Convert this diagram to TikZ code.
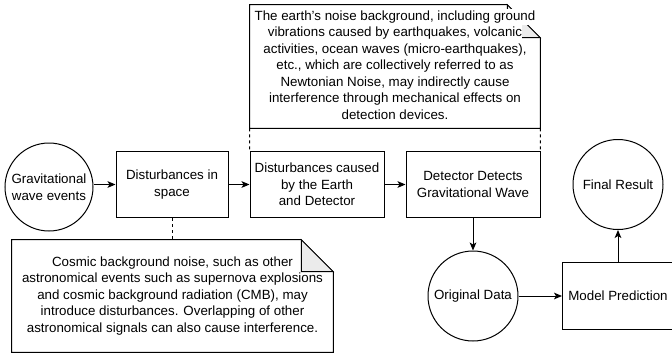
\documentclass[tikz,border=0pt]{standalone}
\usepackage{fontspec}
\setmainfont{Liberation Sans}
\usetikzlibrary{arrows.meta,backgrounds}
\newcommand{\whiteline}[1]{{\setlength{\fboxsep}{0pt}\colorbox{white}{\strut #1}}}

\begin{document}
\begin{tikzpicture}[x=0.75pt,y=-0.75pt,
  box/.style={draw=black,line width=0.75pt,rectangle,align=center},
  state/.style={draw=black,line width=0.75pt,circle,align=center},
  memo/.style={align=center},
  link/.style={black,line width=0.75pt,-{Stealth[length=6pt,width=5pt,inset=1.5pt]}},
  tie/.style={black,line width=0.75pt,dash pattern=on 2.25pt off 2.25pt}]
\tikzstyle{every node}+=[inner sep=0pt,font=\fontsize{10pt}{12.4pt}\selectfont]
\useasboundingbox (0,0) rectangle (672,354);
\node [state,minimum size=66pt] (grav) at (49,187) {Gravitational\\wave events};
\node [box,minimum width=84pt,minimum height=50pt] (space) at (172,184.5) {Disturbances in\\space};
\node [box,minimum width=100.5pt,minimum height=50pt] (earth) at (317,184.5) {Disturbances caused\\by the Earth\\and Detector};
\node [box,minimum width=100.5pt,minimum height=50pt] (detect) at (473,184.5) {Detector Detects\\Gravitational Wave};
\node [state,minimum size=67.5pt] (data) at (473,296) {Original Data};
\node [box,minimum width=83.25pt,minimum height=50.25pt] (model) at (618,296) {Model Prediction};
\node [state,minimum size=67.5pt] (final) at (618,184.5) {Final Result};
\node [memo,minimum width=217.5pt,minimum height=92.25pt] (newton) at (395,66.5) {\whiteline{The earth's noise background, including ground}\\\whiteline{vibrations caused by earthquakes, volcanic}\\\whiteline{activities, ocean waves (micro-earthquakes),}\\\whiteline{etc., which are collectively referred to as}\\\whiteline{Newtonian Noise, may indirectly cause}\\\whiteline{interference through mechanical effects on}\\\whiteline{detection devices.}};
\node [memo,minimum width=240.75pt,minimum height=84pt] (cosmic) at (172.5,296) {Cosmic background noise, such as other\\astronomical events such as supernova explosions\\and cosmic background radiation (CMB), may\\introduce disturbances. Overlapping of other\\astronomical signals can also cause interference.};
\begin{scope}[on background layer]
\draw [black,line width=0.75pt] (newton.north west) -- ([xshift=-24.75pt]newton.north east) -- ([yshift=-24.75pt]newton.north east) -- (newton.south east) -- (newton.south west) -- cycle;
\filldraw [fill=black!8,draw=black,line width=0.75pt] ([xshift=-24.75pt]newton.north east) -- ([xshift=-24.75pt,yshift=-24.75pt]newton.north east) -- ([yshift=-24.75pt]newton.north east) -- cycle;
\draw [black,line width=0.75pt] (cosmic.north west) -- ([xshift=-24pt]cosmic.north east) -- ([yshift=-24pt]cosmic.north east) -- (cosmic.south east) -- (cosmic.south west) -- cycle;
\filldraw [fill=black!8,draw=black,line width=0.75pt] ([xshift=-24pt]cosmic.north east) -- ([xshift=-24pt,yshift=-24pt]cosmic.north east) -- ([yshift=-24pt]cosmic.north east) -- cycle;
\end{scope}
\draw [link] (grav.east |- space.west) -- (space.west);
\draw [link] (space) -- (earth);
\draw [link] (earth) -- (detect);
\draw [link] (detect) -- (data);
\draw [link] (data) -- (model);
\draw [link] (model) -- (final);
\draw [tie] (space.south) -- (space.south |- cosmic.north);
\draw [tie] (newton.south west) -- (earth.north west);
\draw [tie] (newton.south east) -- (detect.north east);
\end{tikzpicture}
\end{document}
